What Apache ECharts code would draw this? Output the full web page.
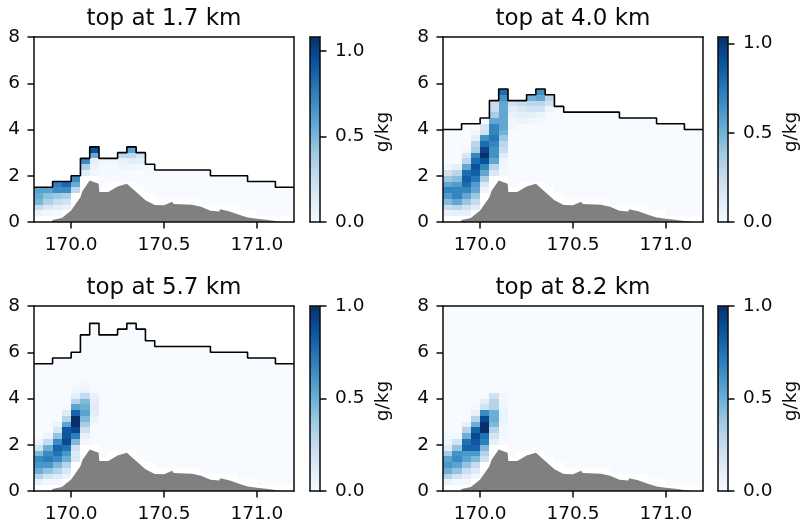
<!DOCTYPE html>
<html>
<head>
<meta charset="utf-8">
<style>html,body{margin:0;padding:0;background:#fff}#c{width:803px;height:523px}</style>
<script src="https://cdn.jsdelivr.net/npm/echarts@6/dist/echarts.min.js"></script>
</head>
<body>
<div id="c"></div>
<script>
// Cell grid of the plots
const lonStart = 169.8, lonStep = 0.05, heightStep = 0.25;

// Cloud-top height per longitude column, km
const top1 = [1.5,1.5,1.75,1.75,2,2.75,3.25,2.75,2.75,3,3.25,3,2.5,2.25,2.25,2.25,2.25,2.25,2.25,2,2,2,2,1.75,1.75,1.75,1.5,1.5];
const top2 = [4,4,4.25,4.25,4.5,5.25,5.75,5.25,5.25,5.5,5.75,5.5,5,4.75,4.75,4.75,4.75,4.75,4.75,4.5,4.5,4.5,4.5,4.25,4.25,4.25,4,4];
const top3 = [5.5,5.5,5.75,5.75,6,6.75,7.25,6.75,6.75,7,7.25,7,6.5,6.25,6.25,6.25,6.25,6.25,6.25,6,6,6,6,5.75,5.75,5.75,5.5,5.5];
const top4 = [8,8,8.25,8.25,8.5,9.25,9.75,9.25,9.25,9.5,9.75,9.5,9,8.75,8.75,8.75,8.75,8.75,8.75,8.5,8.5,8.5,8.5,8.25,8.25,8.25,8,8];

// Lowest height with data per column (cells under it are blank), km
const ground = [.25,.25,.25,.5,1.25,2,2,1.5,1.75,1.75,1.75,1.5,1.25,1,1,1,1,1,.75,.75,.75,.75,.5,.5,.25,.25,.25,.25];

// Terrain outline
const terrainLon = [169.8,169.895,169.9,169.95,170,170.05,170.061,170.1,170.148,170.152,170.2,170.25,170.3,170.35,170.4,170.45,170.5,170.544,170.552,170.65,170.7,170.75,170.798,170.802,170.85,170.9,170.95,171,171.05,171.1,171.15,171.2];
const terrainHeight = [0,0,.09,.17,.5,1.07,1.34,1.8,1.65,1.3,1.3,1.54,1.65,1.3,.94,.73,.72,.88,.78,.75,.66,.49,.45,.55,.46,.32,.2,.14,.1,.04,0,0];

// Condensate: [column, first row, values bottom to top], g/kg
const cloud1 = [
 [0,1,[.06,.25,.5,.55,.6]],
 [1,1,[.03,.15,.35,.45,.6]],
 [2,1,[.02,.1,.25,.4,.7,.75]],
 [3,1,[.01,.07,.2,.35,.7,.85]],
 [4,2,[.02,.05,.15,.3,.55,.7]],
 [5,6,[.02,.04,.12,.35,.7]],
 [6,7,[.02,.03,.06,.1,.55,.95]],
 [7,8,[.01,.015,.03]],
 [8,8,[.01,.015,.03]],
 [9,9,[.05,.08,.3]],
 [10,9,[.04,.12,.3,.6]],
 [11,9,[.03,.1,.2]],
 [12,8,[.01,.02]]
];
const cloud2 = [
 [0,1,[.07,.25,.45,.6,.7,.55,.4,.2,.03]],
 [1,1,[.1,.3,.55,.7,.7,.6,.45,.3,.1]],
 [2,1,[.08,.2,.4,.55,.7,.8,.85,.8,.55,.3,.15,.03]],
 [3,1,[.03,.12,.25,.4,.55,.6,.75,.85,.9,.8,.7,.35,.3,.1,.03]],
 [4,4,[.03,.06,.15,.35,.55,.7,.9,1.04,.95,.8,.65,.2,.15]],
 [5,7,[.05,.15,.3,.55,.65,.65,.7,.75,.7,.7,.55,.35,.25,.25]],
 [6,8,[.02,.03,.05,.12,.25,.3,.4,.5,.55,.55,.55,.55,.55,.65,.8]],
 [7,16,[.03,.04,.07,.12,.2]],
 [8,17,[.05,.1,.15,.25]],
 [9,17,[.04,.1,.2,.3,.5]],
 [10,17,[.03,.06,.2,.3,.55,.65]],
 [11,18,[.02,.05,.2,.3]],
 [12,18,[.01,.02]]
];
const cloud3 = [
 [0,1,[.08,.3,.5,.6,.65,.45,.2,.06]],
 [1,1,[.03,.18,.4,.6,.7,.65,.5,.25,.05]],
 [2,1,[.03,.12,.3,.45,.65,.75,.8,.65,.4,.15,.06]],
 [3,1,[.01,.05,.15,.3,.5,.6,.75,.9,.85,.85,.55,.3,.12,.02,.01]],
 [4,3,[.02,.06,.15,.12,.2,.45,.7,.9,1,1,.8,.55,.3,.1,.04]],
 [5,8,[.03,.08,.2,.35,.45,.55,.5,.45,.25,.06,.02]],
 [6,11,[.02,.06,.1,.12,.1,.08]]
];
const cloud4 = [
 [0,1,[.06,.3,.5,.6,.55,.35,.12,.05,.02]],
 [1,1,[.02,.18,.4,.55,.65,.62,.4,.18,.02]],
 [2,1,[.02,.1,.22,.4,.55,.6,.8,.75,.5,.3,.08]],
 [3,2,[.04,.12,.25,.45,.6,.8,.85,.9,.8,.5,.3,.08,.02]],
 [4,3,[.03,.08,.2,.3,.45,.7,.75,1,1,.9,.65,.2,.1]],
 [5,6,[.01,.02,.08,.18,.3,.45,.5,.5,.3,.3,.2]],
 [6,9,[.02,.03,.04,.05,.06,.05,.04,.03]]
];

// Colour bar and axis ticks
const vmax1 = 1.08, vmax2 = 1.037, vmax3 = 1.0, vmax4 = 1.0;
const barTicks = [0, 0.5, 1];
const lonTicks = [170, 170.5, 171];
const heightTicks = [0, 2, 4, 6, 8];
const titles = ['top at 1.7 km','top at 4.0 km','top at 5.7 km','top at 8.2 km'];
const blues = ['#f7fbff','#deebf7','#c6dbef','#9ecae1','#6baed6','#4292c6','#2171b5','#08519c','#08306b'];

const FONT = 'DejaVu Sans', INK = '#0a0a0a', LW = 1.5;
const layout = [
 {l:34,  t:37,  bar:310},
 {l:443, t:37,  bar:718},
 {l:34,  t:306, bar:310},
 {l:443, t:306, bar:718}
];
const W = 260, H = 185, BW = 10;
const panels = [
 {top:top1, cloud:cloud1, vmax:vmax1},
 {top:top2, cloud:cloud2, vmax:vmax2},
 {top:top3, cloud:cloud3, vmax:vmax3},
 {top:top4, cloud:cloud4, vmax:vmax4}
];

function cells(p){
  const extra = {};
  p.cloud.forEach(([c,r,vals]) => vals.forEach((v,i) => extra[c+'_'+(r+i)] = v));
  const out = [];
  p.top.forEach((t,c) => {
    for (let r = Math.round(ground[c]/heightStep); r*heightStep < Math.min(t,8); r++){
      out.push([lonStart + c*lonStep, r*heightStep, extra[c+'_'+r] || 0]);
    }
  });
  return out;
}
function renderCell(params, api){
  const x = api.value(0), y = api.value(1);
  const a = api.coord([x, y]), b = api.coord([x + lonStep, y + heightStep]);
  const x0 = Math.round(a[0]), x1 = Math.round(b[0]), y0 = Math.round(b[1]), y1 = Math.round(a[1]);
  return {type:'rect', shape:{x:x0, y:y0, width:x1-x0, height:y1-y0}, style:{fill:api.visual('color')}};
}
const line = {show:true, onZero:false, lineStyle:{color:INK, width:LW}};
const tick = vals => ({show:true, length:6.5, lineStyle:{color:INK, width:LW}, customValues:vals});
const label = (vals, m, fmt) => ({show:true, margin:m, color:INK, fontFamily:FONT, fontSize:18.5, customValues:vals, formatter:fmt, showMinLabel:true, showMaxLabel:true, hideOverlap:false});
const bare = {show:true, z:5, axisLine:line, axisTick:{show:false}, axisLabel:{show:false}, splitLine:{show:false}};

const option = {animation:false, backgroundColor:'#fff',
  title:[], grid:[], xAxis:[], yAxis:[], visualMap:[], series:[]};

panels.forEach((p,i) => {
  const g = layout[i], gi = option.grid.length;
  option.title.push({text:titles[i], left:g.l+W/2, top:g.t-29, textAlign:'center', padding:0,
    textStyle:{fontFamily:FONT, fontSize:23, fontWeight:'normal', color:INK}});
  // plot
  option.grid.push({left:g.l, top:g.t, width:W, height:H, containLabel:false, outerBoundsMode:'none'});
  const xi = option.xAxis.length, yi = option.yAxis.length;
  option.xAxis.push({type:'value', gridIndex:gi, min:169.8, max:171.2, position:'bottom', z:5, axisLine:line,
    axisTick:tick(lonTicks), axisLabel:label(lonTicks, 14, v => v.toFixed(1)), splitLine:{show:false}});
  option.xAxis.push(Object.assign({type:'value', gridIndex:gi, min:169.8, max:171.2, position:'top'}, bare));
  option.yAxis.push({type:'value', gridIndex:gi, min:0, max:8, interval:2, position:'left', z:5, axisLine:line,
    axisTick:tick(heightTicks), axisLabel:label(heightTicks, 14, v => String(v)), splitLine:{show:false}});
  option.yAxis.push(Object.assign({type:'value', gridIndex:gi, min:0, max:8, position:'right'}, bare));

  const cellIndex = option.series.length;
  option.series.push({type:'custom', xAxisIndex:xi, yAxisIndex:yi, data:cells(p), renderItem:renderCell,
    encode:{x:0, y:1}, clip:true, silent:true, z:1});
  option.series.push({type:'line', xAxisIndex:xi, yAxisIndex:yi, z:2, silent:true, showSymbol:false,
    data:terrainLon.map((x,k) => [x, terrainHeight[k]]),
    lineStyle:{width:0}, itemStyle:{color:'#808080'}, areaStyle:{color:'#808080', opacity:1}});
  // the outline of the last panel lies entirely at or above the plot's ceiling
  if (Math.min.apply(null, p.top) < 8) {
    const edges = p.top.map((t,c) => [lonStart + c*lonStep, t]);
    edges.push([lonStart + p.top.length*lonStep, p.top[p.top.length-1]]);
    option.series.push({type:'line', xAxisIndex:xi, yAxisIndex:yi, z:3, silent:true, showSymbol:false, step:'end',
      data:edges, lineStyle:{color:'#000', width:1.6}, clip:true});
  }

  // colour bar
  option.visualMap.push({type:'continuous', min:0, max:p.vmax, dimension:2, seriesIndex:cellIndex,
    inRange:{color:blues}, left:g.bar, top:g.t, itemWidth:BW, itemHeight:H, padding:0, text:null,
    calculable:false, realtime:false, hoverLink:false, showLabel:false, borderWidth:0, z:1});
  const bg = option.grid.length;
  option.grid.push({left:g.bar, top:g.t, width:BW, height:H, containLabel:false, outerBoundsMode:'none'});
  option.xAxis.push(Object.assign({type:'value', gridIndex:bg, min:0, max:1, position:'bottom'}, bare));
  option.xAxis.push(Object.assign({type:'value', gridIndex:bg, min:0, max:1, position:'top'}, bare));
  option.yAxis.push(Object.assign({type:'value', gridIndex:bg, min:0, max:p.vmax, position:'left'}, bare));
  option.yAxis.push({type:'value', gridIndex:bg, min:0, max:p.vmax, position:'right', z:5, axisLine:line,
    axisTick:tick(barTicks), axisLabel:label(barTicks, 15, v => v.toFixed(1)), splitLine:{show:false},
    name:'g/kg', nameLocation:'middle', nameRotate:90, nameGap:54,
    nameTextStyle:{fontFamily:FONT, fontSize:18.5, color:INK, padding:[0,5,0,0]}});
});
const chart = echarts.init(document.getElementById('c'), null, {renderer:'canvas'});
chart.setOption(option);
</script>
</body>
</html>
